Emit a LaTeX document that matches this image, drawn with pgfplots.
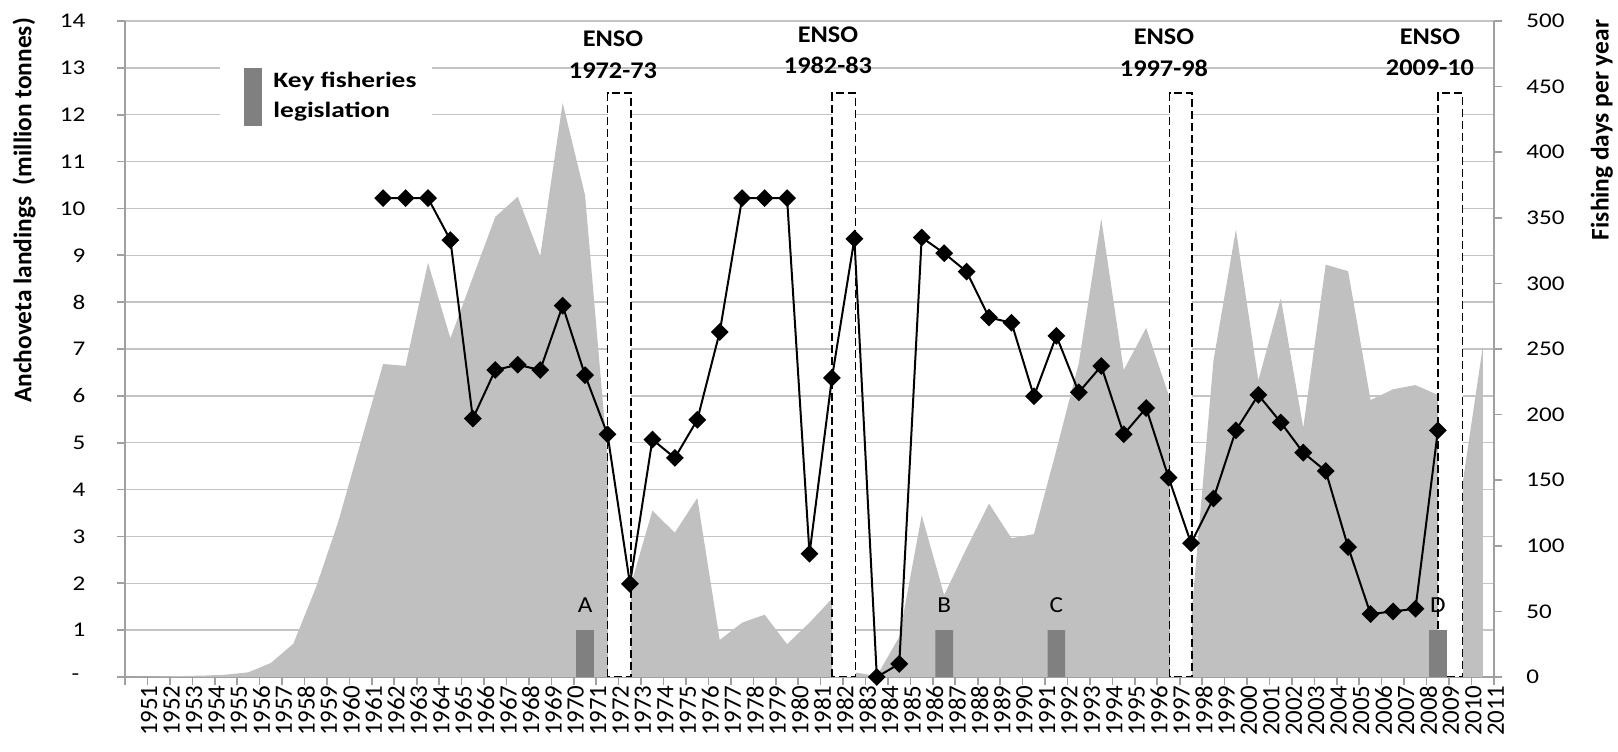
\documentclass[border=0pt]{standalone}
\usepackage{fontspec}
\setmainfont{Carlito}
\usepackage{pgfplots}
\pgfplotsset{compat=1.18}
\definecolor{areagray}{HTML}{C0C0C0}
\definecolor{bargray}{HTML}{808080}
\definecolor{gridgray}{HTML}{C4C4C4}
\definecolor{axisgray}{HTML}{A0A0A0}

\begin{document}
\begin{tikzpicture}
\path[use as bounding box] (0,0) rectangle (809bp,376bp);

% left axis: landings (area), ENSO boxes, legislation bars
\begin{axis}[
  at={(62.5bp,37.5bp)}, anchor=south west,
  scale only axis, width=684.5bp, height=328bp,
  xmin=1950.5, xmax=2011.5, ymin=0, ymax=14,
  axis x line*=bottom, axis y line*=left,
  axis line style={draw=axisgray, line width=0.8bp, -},
  tick align=outside,
  major tick length=4bp, minor tick length=4bp,
  xtick=data,
  xticklabel={\pgfmathparse{int(round(\tick))}\pgfmathresult},
  minor xtick={1950.5,1951.5,...,2011.5},
  major x tick style={draw=none},
  minor x tick style={draw=axisgray, line width=0.8bp},
  ytick={0,...,14},
  yticklabels={{-\kern2.5bp},1,2,3,4,5,6,7,8,9,10,11,12,13,14},
  y tick style={draw=axisgray, line width=0.8bp},
  ymajorgrids, grid style={draw=gridgray, line width=0.7bp},
  xticklabel style={font=\fontsize{12.5}{13}\selectfont, rotate=90, anchor=east, inner sep=0pt, yshift=-6.5bp},
  yticklabel style={font=\fontsize{10.5}{12}\selectfont, anchor=east, inner sep=0pt, xscale=1.2, xshift=-13bp},
]
\addplot[fill=areagray, draw=none] coordinates {
  (1951,0.00) (1952,0.01) (1953,0.02) (1954,0.03) (1955,0.05) (1956,0.10)
  (1957,0.30) (1958,0.71) (1959,1.90) (1960,3.31) (1961,5.00) (1962,6.68)
  (1963,6.64) (1964,8.84) (1965,7.23) (1966,8.53) (1967,9.82) (1968,10.25)
  (1969,8.98) (1970,12.25) (1971,10.28) (1972,4.70) (1973,1.90) (1974,3.55)
  (1975,3.08) (1976,3.82) (1977,0.79) (1978,1.16) (1979,1.33) (1980,0.70)
  (1981,1.16) (1982,1.67) (1983,0.10) (1984,0.02) (1985,0.86) (1986,3.45)
  (1987,1.75) (1988,2.75) (1989,3.70) (1990,2.96) (1991,3.05) (1992,4.84)
  (1993,6.70) (1994,9.78) (1995,6.55) (1996,7.45) (1997,6.02) (1998,1.20)
  (1999,6.75) (2000,9.55) (2001,6.33) (2002,8.08) (2003,5.32) (2004,8.80)
  (2005,8.66) (2006,5.91) (2007,6.14) (2008,6.23) (2009,6.02) (2010,3.80)
  (2011,7.05)
} \closedcycle;
% ENSO events
\draw[dash pattern=on 4bp off 2bp, line width=0.7bp, fill=white]
  (axis cs:1972,0) rectangle (axis cs:1973.05,12.46);
\draw[dash pattern=on 4bp off 2bp, line width=0.7bp, fill=white]
  (axis cs:1982,0) rectangle (axis cs:1983.05,12.46);
\draw[dash pattern=on 4bp off 2bp, line width=0.7bp, fill=white]
  (axis cs:1997.05,0) rectangle (axis cs:1998.05,12.46);
\draw[dash pattern=on 4bp off 2bp, line width=0.7bp, fill=white]
  (axis cs:2009,0) rectangle (axis cs:2010.1,12.46);
% key fisheries legislation
\addplot[ybar, bar width=8.85bp, bar shift=0pt, fill=bargray, draw=none]
  coordinates {(1971,1) (1987,1) (1992,1) (2009,1)};
\node[font=\fontsize{11.5}{12}\selectfont, xscale=1.1] at (axis cs:1971,1.54) {A};
\node[font=\fontsize{11.5}{12}\selectfont, xscale=1.1] at (axis cs:1987,1.54) {B};
\node[font=\fontsize{11.5}{12}\selectfont, xscale=1.1] at (axis cs:1992,1.54) {C};
\node[font=\fontsize{11.5}{12}\selectfont, xscale=1.1] at (axis cs:2009,1.54) {D};
\end{axis}

% right axis: fishing days
\begin{axis}[
  at={(62.5bp,37.5bp)}, anchor=south west,
  scale only axis, width=684.5bp, height=328bp,
  xmin=1950.5, xmax=2011.5, ymin=0, ymax=500,
  axis y line*=right, axis x line=none,
  axis line style={draw=axisgray, line width=0.8bp, -},
  tick align=outside, major tick length=4bp,
  ytick={0,50,...,500},
  y tick style={draw=axisgray, line width=0.8bp},
  /pgf/number format/assume math mode=true,
  yticklabel style={font=\fontsize{10.5}{12}\selectfont, anchor=west, inner sep=0pt, xscale=1.2, xshift=10bp},
]
\addplot[black, line width=1bp, mark=square*, mark size=2.65bp,
  mark options={rotate=45, solid}] coordinates {
  (1962,365) (1963,365) (1964,365) (1965,333) (1966,197) (1967,234)
  (1968,238) (1969,234) (1970,283) (1971,230) (1972,185) (1973,71)
  (1974,181) (1975,167) (1976,196) (1977,263) (1978,365) (1979,365)
  (1980,365) (1981,94) (1982,228) (1983,334) (1984,0) (1985,10)
  (1986,335) (1987,323) (1988,309) (1989,274) (1990,270) (1991,214)
  (1992,260) (1993,217) (1994,237) (1995,185) (1996,205) (1997,152)
  (1998,102) (1999,136) (2000,188) (2001,215) (2002,194) (2003,171)
  (2004,157) (2005,99) (2006,48) (2007,50) (2008,52) (2009,188)
};
\end{axis}

% annotations in pixel units of the reference (origin top left)
\begin{scope}[x=0.5bp, y=-0.5bp, shift={(0,376bp)}]
  \fill[white] (220,40) rectangle (432,150);
  \fill[bargray] (244,68) rectangle (262,126);
  \node[anchor=base west, inner sep=0pt, xscale=1.25, font=\bfseries\fontsize{11}{13}\selectfont] at (273,87.7) {Key fisheries};
  \node[anchor=base west, inner sep=0pt, xscale=1.25, font=\bfseries\fontsize{11}{13}\selectfont] at (273,117.3) {legislation};
  \tikzset{enso/.style={anchor=base, inner sep=0pt, xscale=1.1, font=\bfseries\fontsize{12}{14}\selectfont}}
  \node[enso] at (613,47) {ENSO};   \node[enso] at (613,79) {1972-73};
  \node[enso] at (828,42.5) {ENSO}; \node[enso] at (828,74) {1982-83};
  \node[enso] at (1164,45) {ENSO};  \node[enso] at (1164,76.7) {1997-98};
  \node[enso] at (1430,44.3) {ENSO}; \node[enso] at (1430,76) {2009-10};
  \node[rotate=90, inner sep=0pt, font=\bfseries\fontsize{12.75}{14}\selectfont] at (24,210.5) {Anchoveta landings\ \ (million tonnes)};
  \node[rotate=90, inner sep=0pt, font=\bfseries\fontsize{12.75}{14}\selectfont] at (1602,130) {Fishing days per year};
\end{scope}
\end{tikzpicture}
\end{document}
